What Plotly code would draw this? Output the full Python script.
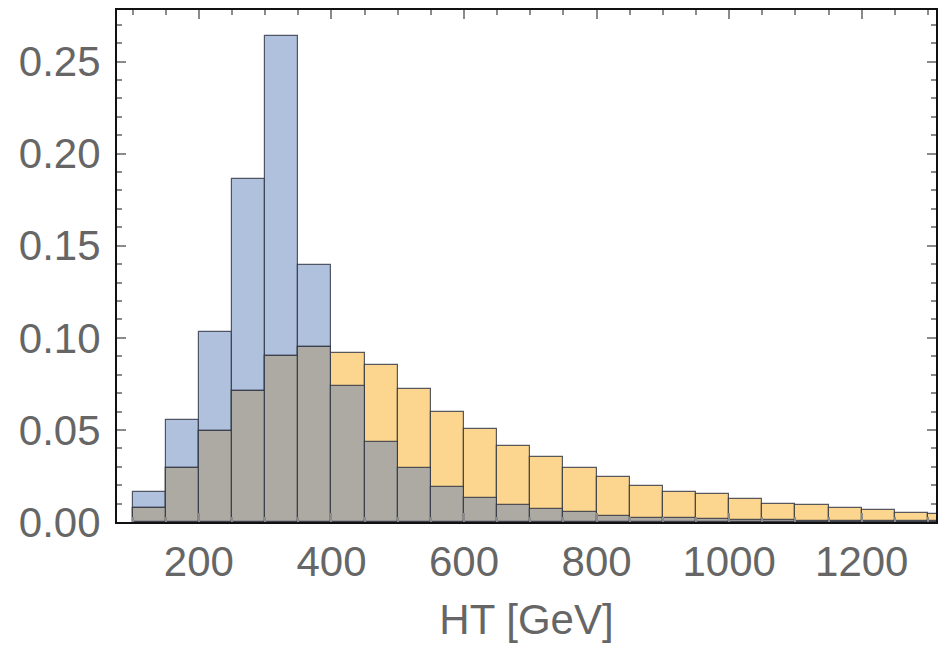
import plotly.graph_objects as go

# Bin lower edges (GeV), bin width 50
bin_lo = [100, 150, 200, 250, 300, 350, 400, 450, 500, 550, 600, 650, 700,
          750, 800, 850, 900, 950, 1000, 1050, 1100, 1150, 1200, 1250, 1300]
bin_width = 50

blue_vals = [0.0165, 0.0554, 0.1031, 0.1864, 0.2641, 0.1393, 0.0736, 0.0437,
             0.0292, 0.0190, 0.0132, 0.0092, 0.0071, 0.0053, 0.0034, 0.0024,
             0.0022, 0.0016, 0.0012, 0.0010, 0.0008, 0.0006, 0.0005, 0.0004,
             0.0003]
orange_vals = [0.0074, 0.0292, 0.0495, 0.0712, 0.0902, 0.0949, 0.0917, 0.0850,
               0.0723, 0.0600, 0.0505, 0.0415, 0.0355, 0.0295, 0.0243, 0.0197,
               0.0165, 0.0154, 0.0123, 0.0100, 0.0092, 0.0074, 0.0067, 0.0051,
               0.0042]

y_ticks = [0.0, 0.05, 0.10, 0.15, 0.20, 0.25]
y_tick_text = ["0.00", "0.05", "0.10", "0.15", "0.20", "0.25"]
x_ticks = [200, 400, 600, 800, 1000, 1200]

centers = [b + bin_width / 2 for b in bin_lo]
overlap = [min(a, b) for a, b in zip(blue_vals, orange_vals)]

edge = dict(color="rgba(45,50,65,0.8)", width=1.2)

fig = go.Figure()
fig.add_trace(go.Bar(x=centers, y=blue_vals, width=bin_width,
                     marker=dict(color="#AFC1DD", line=edge), name="blue"))
fig.add_trace(go.Bar(x=centers, y=orange_vals, width=bin_width,
                     marker=dict(color="#FCD68F", line=edge), name="orange"))
fig.add_trace(go.Bar(x=centers, y=overlap, width=bin_width,
                     marker=dict(color="#ADAAA3", line=edge), name="overlap"))

font_family = "Liberation Sans, Arial, sans-serif"
text_color = "#666666"
fs = 42

fig.update_layout(
    width=938, height=646,
    barmode="overlay",
    bargap=0,
    showlegend=False,
    plot_bgcolor="white",
    paper_bgcolor="white",
    margin=dict(l=117, r=0, t=10, b=124),
    font=dict(family=font_family, color=text_color, size=fs),
)

fig.update_xaxes(
    range=[76.5, 1312],
    tickmode="array", tickvals=x_ticks,
    ticks="inside", ticklen=9, tickwidth=2, tickcolor="#8a8a8a",
    minor=dict(dtick=50, tick0=0, ticks="inside", ticklen=5, tickwidth=2,
               tickcolor="#8a8a8a", showgrid=False),
    showline=True, linecolor="#111111", linewidth=2, mirror="allticks",
    showgrid=False, zeroline=False,
    tickfont=dict(size=fs, color=text_color, family=font_family),
    ticklabelstandoff=2,
    title=dict(text="HT [GeV]", font=dict(size=fs, color=text_color,
                                          family=font_family), standoff=20),
)
fig.update_yaxes(
    range=[0, 0.278],
    tickmode="array", tickvals=y_ticks, ticktext=y_tick_text,
    ticks="inside", ticklen=9, tickwidth=2, tickcolor="#8a8a8a",
    minor=dict(dtick=0.01, tick0=0, ticks="inside", ticklen=5, tickwidth=2,
               tickcolor="#8a8a8a", showgrid=False),
    showline=True, linecolor="#111111", linewidth=2, mirror="allticks",
    showgrid=False, zeroline=False,
    tickfont=dict(size=fs, color=text_color, family=font_family),
    ticklabelstandoff=6,
)

fig.write_html("out.html")
